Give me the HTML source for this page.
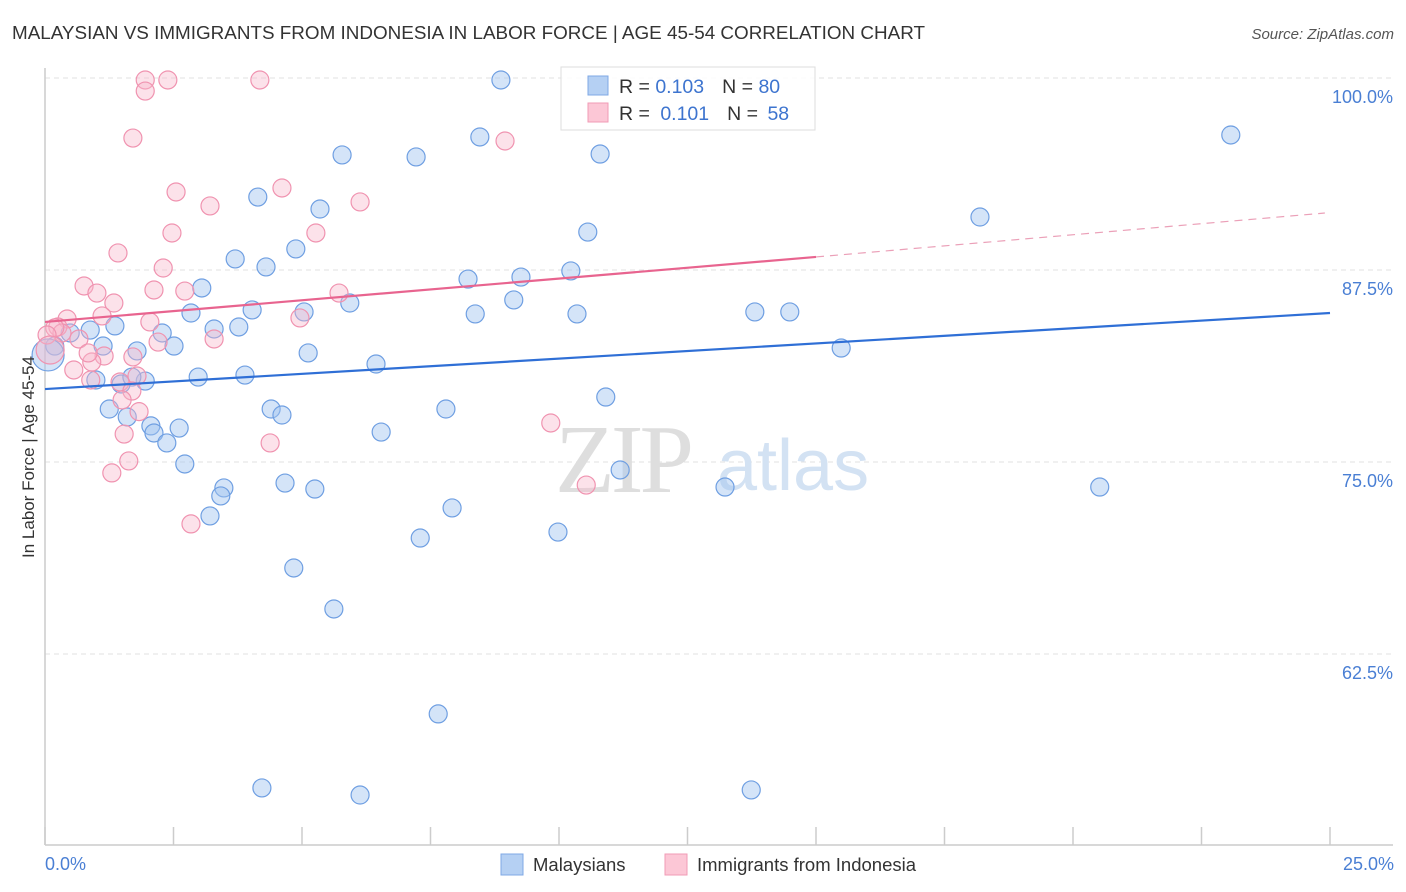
<!DOCTYPE html>
<html><head><meta charset="utf-8"><style>
body{margin:0;background:#fff;width:1406px;height:892px;overflow:hidden;font-family:"Liberation Sans",sans-serif}
svg{display:block}
</style></head><body>
<svg id="chart" width="1406" height="892" xmlns="http://www.w3.org/2000/svg">
<text x="12" y="39" font-size="18" fill="#333" textLength="913" lengthAdjust="spacingAndGlyphs">MALAYSIAN VS IMMIGRANTS FROM INDONESIA IN LABOR FORCE | AGE 45-54 CORRELATION CHART</text>
<text x="1394" y="39" font-size="15" fill="#555" font-style="italic" text-anchor="end">Source: ZipAtlas.com</text>
<g id="grid"></g>
<g>
<text x="555" y="492" font-family="Liberation Serif,serif" font-size="98" fill="#dedede" letter-spacing="-4">ZIP</text>
<text x="717" y="490" font-size="72" fill="#d3e2f3">atlas</text>
</g>
<line x1="45" y1="68" x2="45" y2="845" stroke="#ccc" stroke-width="1.5"/>
<line x1="45" y1="845" x2="1393" y2="845" stroke="#ccc" stroke-width="1.5"/>
<g id="ticks"></g>
<g id="pts"></g>
<g id="lines"></g>
<text transform="translate(34,457) rotate(-90)" font-size="17" fill="#333" text-anchor="middle">In Labor Force | Age 45-54</text>
<text x="45" y="870" font-size="18" fill="#4a7fd4">0.0%</text>
<text x="1394" y="870" font-size="18" fill="#4a7fd4" text-anchor="end">25.0%</text>
<g>
<rect x="561" y="67" width="254" height="63" fill="#fff" fill-opacity="0.85" stroke="#ddd"/>
<rect x="588" y="76" width="20" height="19" fill="#b5d0f3" stroke="#7fa8e6"/>
<rect x="588" y="103" width="20" height="19" fill="#fcc7d6" stroke="#f19bb6"/>
<text x="619" y="93" font-size="19.5" fill="#333">R = <tspan fill="#3d74cf">0.103</tspan><tspan dx="18">N = </tspan><tspan fill="#3d74cf">80</tspan></text>
<text x="619" y="120" font-size="19.5" fill="#333">R = <tspan fill="#3d74cf" dx="5">0.101</tspan><tspan dx="18">N = </tspan><tspan fill="#3d74cf" dx="4">58</tspan></text>
</g>
<g>
<rect x="501" y="854" width="22" height="21" fill="#b5d0f3" stroke="#7fa8e6"/>
<text x="533" y="871" font-size="18.5" fill="#333">Malaysians</text>
<rect x="665" y="854" width="22" height="21" fill="#fcc7d6" stroke="#f19bb6"/>
<text x="697" y="871" font-size="18.5" fill="#333">Immigrants from Indonesia</text>
</g>
</svg>
<script>
const yTicks=[100,87.5,75,62.5];
const yTickLabels=["100.0%","87.5%","75.0%","62.5%"];
const xTicks=[0,2.5,5,7.5,10,12.5,15,17.5,20,22.5,25];
const blueX=[8.87,23.07,8.46,5.78,7.22,10.80,4.14,5.35,18.19,10.56,4.88,3.70,4.30,8.23,9.26,10.23,3.05,9.12,5.93,4.03,2.84,5.04,8.37,10.35,13.81,14.49,1.36,2.28,3.29,3.77,0.88,0.49,0.19,1.13,2.51,1.79,5.12,15.49,6.44,0.99,1.48,1.95,2.98,3.89,1.69,1.25,1.60,4.40,4.61,7.80,10.91,2.06,2.61,2.12,2.37,6.54,2.72,11.19,3.48,3.42,4.67,5.25,20.52,13.23,3.21,7.92,7.30,9.98,4.84,5.62,7.65,4.22,6.13,13.74,0.06];
const blueY=[99.87,96.29,96.16,94.99,94.86,95.05,92.25,91.47,90.95,89.97,88.87,88.22,87.70,86.91,87.04,87.44,86.33,85.55,85.35,84.90,84.70,84.77,84.64,84.64,84.77,84.77,83.86,83.40,83.66,83.79,83.59,83.40,82.55,82.55,82.55,82.23,82.10,82.42,81.38,80.34,80.08,80.27,80.53,80.66,80.53,78.45,77.93,78.45,78.06,78.45,79.23,77.35,77.21,76.89,76.24,76.95,74.87,74.48,73.31,72.79,73.63,73.24,73.37,73.37,71.49,72.01,70.05,70.44,68.10,65.43,58.60,53.78,53.32,53.65,81.97];
const pinkX=[1.95,2.39,4.18,1.95,1.71,8.95,2.55,4.61,3.21,6.13,2.47,5.27,1.42,2.30,0.76,1.01,2.12,2.72,1.34,5.72,1.11,0.43,2.04,4.96,3.29,2.20,0.25,0.33,0.66,1.15,1.71,0.91,0.84,1.46,0.56,1.79,0.89,1.69,1.50,1.83,1.54,9.84,4.38,1.63,1.30,10.53,2.84,0.19,0.04,0.10];
const pinkY=[99.87,99.87,99.87,99.15,96.09,95.90,92.58,92.84,91.67,91.93,89.91,89.91,88.61,87.63,86.46,86.00,86.20,86.13,85.35,86.00,84.51,84.31,84.12,84.38,83.01,82.81,83.79,83.40,83.01,81.90,81.84,81.51,82.10,80.21,80.99,80.60,80.34,79.62,79.04,78.28,76.82,77.54,76.24,75.07,74.29,73.50,70.97,83.73,83.27,82.29];
const blueLine=[79.75,84.70];
const pinkLine=[84.12,88.35,91.21];
const pinkLineX=[0,15.0,24.9];

const X=v=>45+v/25*1285;
const Y=v=>78+(100-v)/12.5*192;
const NS="http://www.w3.org/2000/svg";
function mk(t,a,p){const e=document.createElementNS(NS,t);for(const k in a)e.setAttribute(k,a[k]);p.appendChild(e);return e;}
const grid=document.getElementById('grid');
yTicks.forEach((v,i)=>{
  const l=mk('line',{x1:45,x2:1393,y1:Y(v),y2:Y(v),stroke:'#e2e2e2','stroke-dasharray':'5,4'},grid);
  
  
  const t=mk('text',{x:1393,y:Y(v)+25,'font-size':18,fill:'#4a7fd4','text-anchor':'end'},grid);
  t.textContent=yTickLabels[i];
  
  
});
const ticks=document.getElementById('ticks');
xTicks.forEach(v=>{
  const l=mk('line',{x1:X(v),x2:X(v),y1:827,y2:845,stroke:'#ccc','stroke-width':1.5},ticks);
  
  
});
const pts=document.getElementById('pts');
blueX.forEach((v,i)=>{
  const c=mk('circle',{cx:X(v),cy:Y(blueY[i]),r:i==blueX.length-1?16:9,fill:'rgba(160,196,240,0.45)',stroke:'#6f9fe2','stroke-width':1.2},pts);
  
  
});
pinkX.forEach((v,i)=>{
  const c=mk('circle',{cx:X(v),cy:Y(pinkY[i]),r:i==pinkX.length-1?14:9,fill:'rgba(248,182,202,0.4)',stroke:'#f093b0','stroke-width':1.2},pts);
  
  
});
const lines=document.getElementById('lines');
const bl=mk('line',{x1:X(0),y1:Y(blueLine[0]),x2:X(25),y2:Y(blueLine[1]),stroke:'#2f6fd6','stroke-width':2.2},lines);


const pl=mk('line',{x1:X(pinkLineX[0]),y1:Y(pinkLine[0]),x2:X(pinkLineX[1]),y2:Y(pinkLine[1]),stroke:'#e8648f','stroke-width':2.2},lines);


const pd=mk('line',{x1:X(pinkLineX[1]),y1:Y(pinkLine[1]),x2:X(pinkLineX[2]),y2:Y(pinkLine[2]),stroke:'#eba0b8','stroke-width':1.2,'stroke-dasharray':'8,6'},lines);


</script>
</body></html>
